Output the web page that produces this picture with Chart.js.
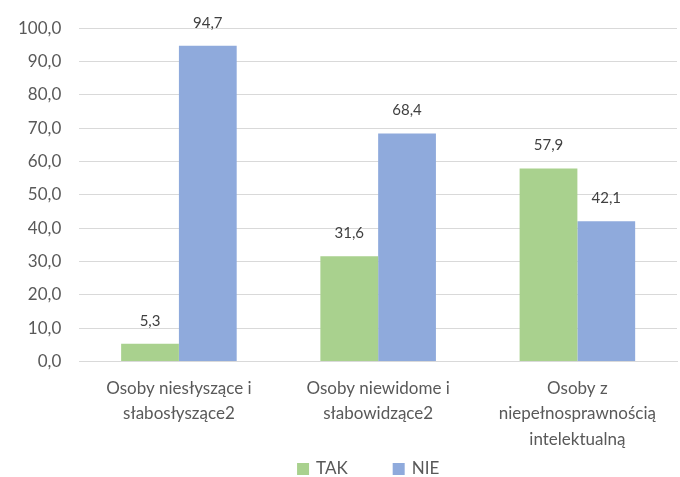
<!DOCTYPE html>
<html>
<head>
<meta charset="utf-8">
<script src="https://cdn.jsdelivr.net/npm/chart.js@4/dist/chart.umd.min.js"></script>
<style>
  html, body { margin: 0; padding: 0; background: #fff; }
  #wrap { width: 680px; height: 477px; }
</style>
</head>
<body>
<div id="wrap"><canvas id="c" width="680" height="477"></canvas></div>
<script>
const categories = [
  ['Osoby niesłyszące i', 'słabosłyszące2'],
  ['Osoby niewidome i', 'słabowidzące2'],
  ['Osoby z', 'niepełnosprawnością', 'intelektualną']
];
const takValues = [5.3, 31.6, 57.9];
const nieValues = [94.7, 68.4, 42.1];
const yTicks = { min: 0, max: 100, step: 10 };

const fmt = v => v.toFixed(1).replace('.', ',');
const FONT = 'Lato, "Open Sans", sans-serif';

// Writes each bar's value just above it
const valueLabels = {
  id: 'valueLabels',
  afterDatasetsDraw(chart) {
    const ctx = chart.ctx;
    ctx.save();
    ctx.font = '15px ' + FONT;
    ctx.fillStyle = '#404040';
    ctx.textAlign = 'center';
    ctx.textBaseline = 'middle';
    chart.data.datasets.forEach((ds, i) => {
      chart.getDatasetMeta(i).data.forEach((bar, j) => {
        ctx.fillText(fmt(ds.data[j]), bar.x, bar.y - 23);
      });
    });
    ctx.restore();
  }
};

// Bottom legend with wide spacing between entries
const wideLegend = {
  id: 'wideLegend',
  afterDraw(chart) {
    const ctx = chart.ctx;
    const box = 12, gapText = 7, gapItem = 45;
    ctx.save();
    ctx.font = '17px ' + FONT;
    const items = chart.data.datasets.map(ds => ({
      text: ds.label, color: ds.backgroundColor, w: ctx.measureText(ds.label).width
    }));
    const total = items.reduce((s, it) => s + box + gapText + it.w, 0) + gapItem * (items.length - 1);
    const ca = chart.chartArea;
    let x = (ca.left + ca.right) / 2 - 10 - total / 2;
    const y = chart.height - 8;
    ctx.textBaseline = 'middle';
    ctx.textAlign = 'left';
    items.forEach(it => {
      ctx.fillStyle = it.color;
      ctx.fillRect(x, y - box / 2, box, box);
      ctx.fillStyle = '#595959';
      ctx.fillText(it.text, x + box + gapText, y);
      x += box + gapText + it.w + gapItem;
    });
    ctx.restore();
  }
};

new Chart(document.getElementById('c'), {
  type: 'bar',
  data: {
    labels: categories,
    datasets: [
      { label: 'TAK', data: takValues, backgroundColor: '#a9d18e' },
      { label: 'NIE', data: nieValues, backgroundColor: '#8faadc' }
    ]
  },
  options: {
    responsive: false,
    animation: false,
    layout: { padding: { top: 18, right: 3, left: 0, bottom: 11 } },
    datasets: { bar: { categoryPercentage: 0.58, barPercentage: 1.0 } },
    scales: {
      x: {
        grid: { display: false, drawTicks: false },
        border: { display: true, color: '#d9d9d9', width: 1 },
        ticks: { color: '#595959', font: { family: FONT, size: 17, lineHeight: 1.5 }, padding: 14, maxRotation: 0, autoSkip: false }
      },
      y: {
        min: yTicks.min,
        max: yTicks.max,
        grid: { color: '#d9d9d9', drawTicks: false },
        border: { display: false },
        ticks: {
          stepSize: yTicks.step,
          color: '#595959',
          font: { family: FONT, size: 17 },
          padding: 18,
          callback: v => fmt(v)
        }
      }
    },
    plugins: {
      legend: { display: false },
      tooltip: { enabled: false }
    }
  },
  plugins: [valueLabels, wideLegend]
});
</script>
</body>
</html>
